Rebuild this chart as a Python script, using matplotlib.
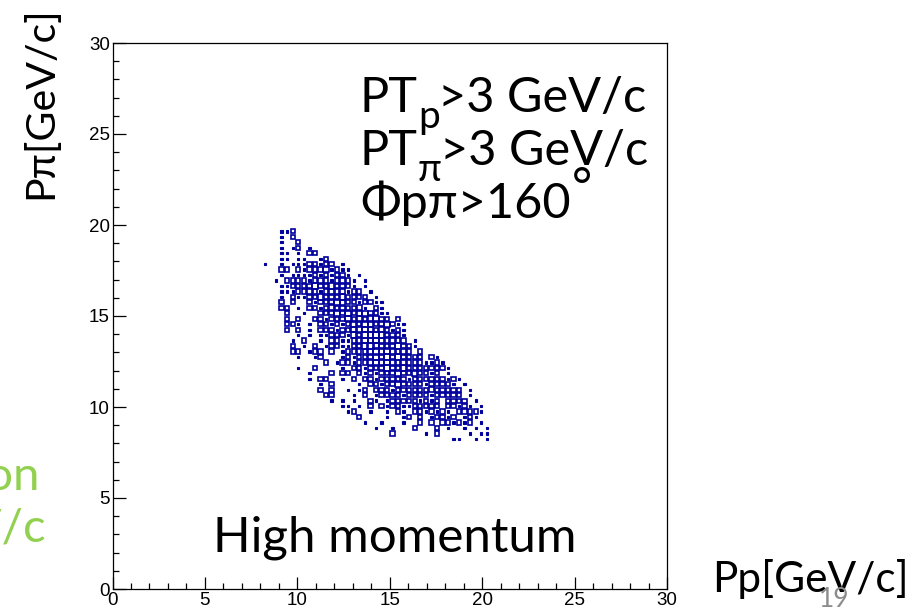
import matplotlib
matplotlib.use("Agg")
import matplotlib.pyplot as plt
from matplotlib.patches import Rectangle
from matplotlib.ticker import MultipleLocator

# ---- data: 2D histogram counts (0.3 GeV/c bins) ----
x_start = 8.1      # left edge of first column (Pp)
y_top = 19.8       # top edge of first row (Ppi)
bin_w = 0.3
rows = [
    "...112",
    "...1.2",
    "...1..2",
    "...1.12.1",
    "...11.1.22",
    "...11.11..12",
    "1..1.11122122.1",
    "...22.2122231211",
    "...1.11112121221.1",
    "..1.2222122212221.1",
    "...11222232232221.1",
    "...111222212223122.1",
    "...1.21122322232222.1",
    "...2.2..21222332212211",
    "...22.1.22123222231.21",
    "....2..1..2223232332211",
    "....2.2..22122232323322.2",
    "....221.1.2212123233223211",
    "....2.2.1.2221223333232121",
    "......1.1.1122213233332221",
    ".....1.2..1.22112233332222.1",
    ".....2.1.2.12211223432223221",
    ".....22.122.2.1222234332222.2",
    "......1..12...121222323232222.21",
    "...........2.12212223332232221121",
    "......1..2....1.221222322322222221",
    "........1...2.22.212122232232212.1",
    "........1.22..1.2.221222221222222121",
    "..........1.2....1.2212232222122221.1",
    "..........2.2..1.12.2221222222322222.1",
    "...........22...1.2.1222212222122222.1",
    "............1.1.1..21.1222221212.2222.1",
    "..............11.1.2.21221122222.22121.1",
    "...............12..1..1.21.2212121.22221",
    ".................2....1..12.2.12212.121",
    "..................1..1...1..2.2.221212.1",
    "....................1..1...2...2.1..1.1.1",
    ".......................2.....1.2.....1.11",
    "..................................11..1.1",
]

x_ticks = [0, 5, 10, 15, 20, 25, 30]
y_ticks = [0, 5, 10, 15, 20, 25, 30]

W, H = 918, 611
fig = plt.figure(figsize=(W / 100, H / 100), dpi=100)
ax = fig.add_axes([112.5 / W, (H - 589) / H, (667 - 112.5) / W, (589 - 43) / H])
ax.set_xlim(0, 30)
ax.set_ylim(0, 30)

blue = '#00009c'
box_side = {1: 0.42, 2: 0.78, 3: 0.98, 4: 1.15}
for r, row in enumerate(rows):
    for c, ch in enumerate(row):
        if ch == '.':
            continue
        n = int(ch)
        cx = x_start + bin_w * (c + 0.5)
        cy = y_top - bin_w * (r + 0.5)
        s = bin_w * box_side[n]
        if n == 1:
            rect = Rectangle((cx - s / 2, cy - s / 2), s, s,
                             facecolor=blue, edgecolor=blue, linewidth=0.8)
        else:
            rect = Rectangle((cx - s / 2, cy - s / 2), s, s,
                             facecolor='none', edgecolor=blue, linewidth=1.2)
        ax.add_patch(rect)

ax.set_xticks(x_ticks)
ax.set_yticks(y_ticks)
ax.xaxis.set_minor_locator(MultipleLocator(1))
ax.yaxis.set_minor_locator(MultipleLocator(1))
ax.tick_params(which='major', direction='in', length=9, width=0.9,
               labelsize=13.5, top=False, right=False, pad=2)
ax.tick_params(which='minor', direction='in', length=4.5, width=0.9,
               top=False, right=False)
for lbl in ax.get_xticklabels() + ax.get_yticklabels():
    lbl.set_fontfamily('Liberation Sans')
for sp in ax.spines.values():
    sp.set_linewidth(0.9)

fam = 'Lato'
fig.text(41 / W, 1 - 103 / H, 'Pπ[GeV/c]', rotation=90, ha='center', va='center',
         family=fam, fontsize=29.5, color='black')
fig.text(712 / W, 1 - 592 / H, 'Pp[GeV/c]', ha='left', va='baseline',
         family=fam, fontsize=30.5, color='black')
fig.text(213 / W, 1 - 551 / H, 'High momentum', ha='left', va='baseline',
         family=fam, fontsize=35.5, color='black')

renderer = fig.canvas.get_renderer()


def line_with_sub(x_px, base_px, main, sub, rest, size=35, sub_size=28, sub_drop=16):
    t1 = fig.text(x_px / W, 1 - base_px / H, main, ha='left', va='baseline',
                  family=fam, fontsize=size)
    x1 = t1.get_window_extent(renderer).x1
    t2 = fig.text(x1 / W, 1 - (base_px + sub_drop) / H, sub, ha='left', va='baseline',
                  family=fam, fontsize=sub_size)
    x2 = t2.get_window_extent(renderer).x1
    fig.text((x2 - 2) / W, 1 - base_px / H, rest, ha='left', va='baseline',
             family=fam, fontsize=size)


line_with_sub(360, 112, 'PT', 'p', '>3 GeV/c')
line_with_sub(360, 165, 'PT', 'π', '>3 GeV/c')
t3 = fig.text(360 / W, 1 - 218 / H, 'Φpπ>160', ha='left', va='baseline',
              family=fam, fontsize=35)
x3 = t3.get_window_extent(renderer).x1
fig.text((x3 + 1) / W, 1 - 203 / H, '°', ha='left', va='baseline',
         family=fam, fontsize=35)

green = '#92d050'
fig.text(40 / W, 1 - 490 / H, 'ion', ha='right', va='baseline', family=fam,
         fontsize=34, color=green)
fig.text(46 / W, 1 - 541 / H, 'GeV/c', ha='right', va='baseline', family=fam,
         fontsize=34, color=green)

fig.text(834 / W, 1 - 607 / H, '19', ha='center', va='baseline', family=fam,
         fontsize=19, color='#8c8c8c')

fig.savefig('out.png', dpi=100)
